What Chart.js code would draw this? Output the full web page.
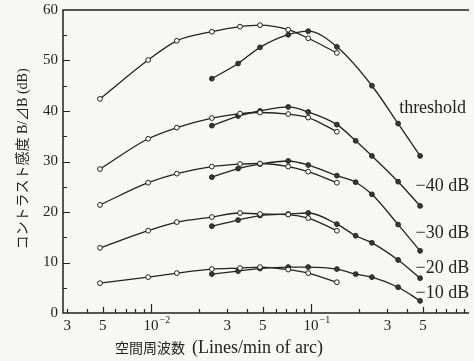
<!DOCTYPE html>
<html>
<head>
<meta charset="utf-8">
<script src="https://cdn.jsdelivr.net/npm/chart.js@4/dist/chart.umd.min.js"></script>
<style>
  html, body { margin: 0; padding: 0; background: #f7f7f4; }
  #wrap { width: 474px; height: 361px; position: relative; }
</style>
</head>
<body>
<div id="wrap"><canvas id="csf"></canvas></div>
<script>
// spatial frequencies (lines/min of arc)
const openFreq   = [0.0048, 0.0096, 0.0145, 0.024, 0.036, 0.048, 0.072, 0.096, 0.145];
const filledFreq = [0.024, 0.035, 0.048, 0.072, 0.096, 0.145, 0.19, 0.24, 0.35, 0.48];

// contrast sensitivity B/dB (dB), open-circle runs
const openThreshold = [42.4, 50.1, 53.9, 55.7, 56.7, 57.0, 56.1, 54.4, 51.5];
const open40 = [28.5, 34.5, 36.7, 38.6, 39.5, 39.7, 39.4, 38.7, 35.9];
const open30 = [21.4, 25.8, 27.6, 29.0, 29.5, 29.6, 29.0, 28.0, 25.8];
const open20 = [12.9, 16.3, 18.0, 19.0, 19.8, 19.6, 19.5, 18.8, 16.3];
const open10 = [5.9, 7.1, 7.9, 8.7, 8.9, 9.1, 8.6, 7.9, 6.1];

// filled-circle runs (null = not measured)
const filledThreshold = [46.4, 49.4, 52.6, 55.1, 55.8, 52.7, null, 45.0, 37.5, 31.1];
const filled40 = [37.1, 39.0, 40.0, 40.8, 39.8, 37.3, 34.1, 31.1, 26.0, 21.2];
const filled30 = [26.9, 28.6, 29.5, 30.1, 29.3, 27.2, 25.9, 23.5, 17.5, 12.3];
const filled20 = [17.2, 18.4, 19.3, 19.6, 19.8, 17.6, 15.3, 13.9, 10.5, 6.9];
const filled10 = [7.7, 8.3, 8.8, 9.1, 9.1, 8.7, 7.7, 7.1, 5.1, 2.4];

// axis ticks
const xTickVals = [0.003, 0.005, 0.01, 0.03, 0.05, 0.1, 0.3, 0.5];
const xTickText = ['3', '5', '10^-2', '3', '5', '10^-1', '3', '5'];
const yTickVals = [0, 10, 20, 30, 40, 50, 60];

// curve names, placed at [freq, dB]
const curveNames = ['threshold', '\u221240 dB', '\u221230 dB', '\u221220 dB', '\u221210 dB'];
const curveNameAt = [[0.355, 40.6], [0.45, 25.1], [0.45, 15.8], [0.45, 8.8], [0.45, 4.0]];

const ink = '#222';
const paper = '#f7f7f4';
const serif = '"Liberation Serif", "DejaVu Serif", serif';
const jp = '"Noto Sans CJK JP", sans-serif';

function curve(values, freqs, filled) {
  return {
    data: values.map((v, i) => ({ x: freqs[i], y: v })).filter(p => p.y !== null),
    borderColor: ink,
    borderWidth: 1.3,
    cubicInterpolationMode: 'monotone',
    pointRadius: 2.4,
    pointBorderWidth: 1,
    pointBorderColor: ink,
    pointBackgroundColor: filled ? '#383838' : paper
  };
}

const datasets = [
  curve(openThreshold, openFreq, false), curve(filledThreshold, filledFreq, true),
  curve(open40, openFreq, false), curve(filled40, filledFreq, true),
  curve(open30, openFreq, false), curve(filled30, filledFreq, true),
  curve(open20, openFreq, false), curve(filled20, filledFreq, true),
  curve(open10, openFreq, false), curve(filled10, filledFreq, true)
];

// frame, inward ticks, tick labels, titles and curve names
const decorations = {
  id: 'decorations',
  afterDraw(chart) {
    const { ctx, chartArea: a, scales: { x, y } } = chart;
    ctx.save();
    ctx.strokeStyle = ink;
    ctx.fillStyle = ink;

    ctx.lineWidth = 1.5;
    ctx.beginPath();
    ctx.moveTo(a.right, a.top); ctx.lineTo(a.left, a.top);
    ctx.lineTo(a.left, a.bottom); ctx.lineTo(a.right, a.bottom);
    ctx.stroke();

    // y ticks every 5 dB
    ctx.lineWidth = 1.2;
    ctx.beginPath();
    for (let v = 5; v < 60; v += 5) {
      const py = Math.round(y.getPixelForValue(v)) + 0.5;
      ctx.moveTo(a.left, py);
      ctx.lineTo(a.left + (v % 10 ? 4 : 7), py);
    }
    // x ticks 1..9 per decade
    for (let e = -3; e <= -1; e++) {
      for (let m = 1; m <= 9; m++) {
        const v = m * Math.pow(10, e);
        if (v < x.min || v > x.max) continue;
        const px = Math.round(x.getPixelForValue(v)) + 0.5;
        ctx.moveTo(px, a.bottom);
        ctx.lineTo(px, a.bottom - (m === 1 ? 9 : m === 5 ? 6 : 4));
      }
    }
    ctx.stroke();

    // y tick labels
    ctx.font = '15px ' + serif;
    ctx.textAlign = 'right';
    ctx.textBaseline = 'middle';
    yTickVals.forEach(v => ctx.fillText(String(v), a.left - 5, y.getPixelForValue(v)));

    // x tick labels
    ctx.textBaseline = 'alphabetic';
    xTickVals.forEach((v, i) => {
      const px = x.getPixelForValue(v);
      const t = xTickText[i];
      ctx.font = '15px ' + serif;
      ctx.textAlign = 'center';
      if (t.startsWith('10^')) {
        ctx.fillText('10', px, 330);
        const w = ctx.measureText('10').width;
        ctx.font = '10px ' + serif;
        ctx.textAlign = 'left';
        ctx.fillText(t.slice(3).replace('-', '\u2212'), px + w / 2 + 1, 323);
      } else {
        ctx.fillText(t, px, 330);
      }
    });

    // x title
    ctx.textAlign = 'left';
    ctx.font = '14px ' + jp;
    ctx.fillText('空間周波数', 115, 353);
    ctx.font = '18px ' + serif;
    ctx.fillText('(Lines/min of arc)', 192, 353);

    // y title
    ctx.save();
    ctx.translate(27, 159);
    ctx.rotate(-Math.PI / 2);
    ctx.textAlign = 'center';
    ctx.font = '14px ' + serif + ', ' + jp;
    ctx.fillText('コントラスト感度 B/\u22BFB (dB)', 0, 0);
    ctx.restore();

    // curve names
    ctx.font = '18px ' + serif;
    ctx.textAlign = 'left';
    ctx.textBaseline = 'middle';
    curveNames.forEach((name, i) => {
      const [f, db] = curveNameAt[i];
      ctx.fillText(name, x.getPixelForValue(f), y.getPixelForValue(db));
    });
    ctx.restore();
  }
};

new Chart(document.getElementById('csf'), {
  type: 'line',
  data: { datasets },
  options: {
    responsive: true,
    maintainAspectRatio: false,
    animation: false,
    layout: { padding: { top: 10, left: 0, right: 0, bottom: 0 } },
    plugins: { legend: { display: false }, tooltip: { enabled: false } },
    scales: {
      x: {
        type: 'logarithmic',
        min: 0.00282,
        max: 0.97,
        grid: { display: false },
        border: { display: false },
        ticks: { display: false },
        afterFit: s => { s.height = 48; }
      },
      y: {
        min: 0,
        max: 60,
        grid: { display: false },
        border: { display: false },
        ticks: { display: false, stepSize: 10 },
        afterFit: s => { s.width = 63; }
      }
    }
  },
  plugins: [decorations]
});
</script>
</body>
</html>
